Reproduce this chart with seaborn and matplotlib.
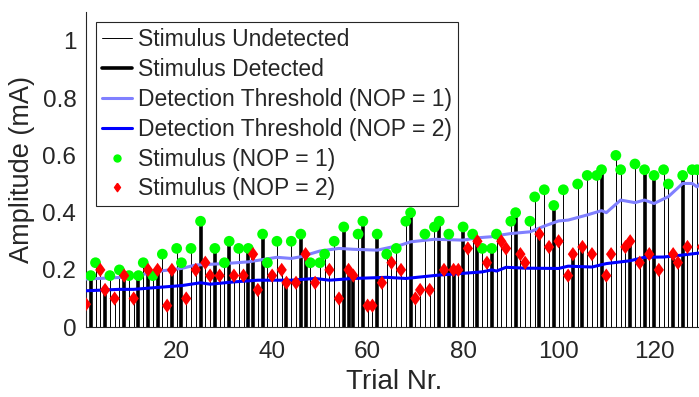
import numpy as np
import pandas as pd
import matplotlib
matplotlib.use("Agg")
import matplotlib.pyplot as plt
import seaborn as sns
from matplotlib.lines import Line2D

# ---------------- data ----------------
trial = list(range(1, 131))
amplitude = [
    0.08, 0.18, 0.225, 0.20, 0.13, 0.18, 0.10, 0.20, 0.18, 0.18,
    0.10, 0.18, 0.225, 0.20, 0.18, 0.20, 0.255, 0.075, 0.20, 0.275,
    0.225, 0.10, 0.275, 0.20, 0.37, 0.225, 0.18, 0.275, 0.18, 0.225,
    0.30, 0.18, 0.275, 0.18, 0.275, 0.255, 0.13, 0.325, 0.225, 0.18,
    0.30, 0.20, 0.155, 0.30, 0.155, 0.325, 0.255, 0.225, 0.155, 0.225,
    0.255, 0.20, 0.30, 0.10, 0.35, 0.20, 0.18, 0.325, 0.37, 0.075,
    0.075, 0.325, 0.155, 0.255, 0.225, 0.275, 0.20, 0.37, 0.40, 0.10,
    0.13, 0.325, 0.13, 0.35, 0.37, 0.20, 0.325, 0.20, 0.20, 0.35,
    0.275, 0.325, 0.30, 0.275, 0.225, 0.275, 0.325, 0.30, 0.275, 0.37,
    0.40, 0.255, 0.225, 0.37, 0.455, 0.325, 0.48, 0.28, 0.425, 0.30,
    0.48, 0.18, 0.255, 0.50, 0.28, 0.53, 0.255, 0.53, 0.55, 0.18,
    0.255, 0.60, 0.55, 0.28, 0.30, 0.57, 0.225, 0.55, 0.255, 0.53,
    0.20, 0.55, 0.50, 0.255, 0.225, 0.53, 0.28, 0.55, 0.55, 0.28,
]
nop = [
    2, 1, 1, 2, 2, 1, 2, 1, 2, 1,
    2, 1, 1, 2, 1, 2, 1, 2, 2, 1,
    1, 2, 1, 2, 1, 2, 2, 1, 2, 1,
    1, 2, 1, 2, 1, 2, 2, 1, 1, 2,
    1, 2, 2, 1, 2, 1, 2, 1, 2, 1,
    1, 2, 1, 2, 1, 2, 2, 1, 1, 2,
    2, 1, 2, 1, 2, 1, 2, 1, 1, 2,
    2, 1, 2, 1, 1, 2, 1, 2, 2, 1,
    2, 1, 2, 1, 2, 1, 1, 2, 2, 1,
    1, 2, 2, 1, 1, 2, 1, 2, 1, 2,
    1, 2, 2, 1, 2, 1, 2, 1, 1, 2,
    2, 1, 1, 2, 2, 1, 2, 1, 2, 1,
    2, 1, 1, 2, 2, 1, 2, 1, 1, 2,
]
detected_trials = [2, 5, 9, 12, 14, 16, 19, 21, 25, 28, 31, 35, 36, 38,
                   43, 46, 47, 55, 56, 57, 59, 62, 69, 75, 77, 78, 80, 83,
                   86, 91, 96, 99, 103, 105, 109, 115, 118, 120, 124, 126]

thr1_trial = [1, 10, 17, 21, 24, 30, 35, 41, 44, 46, 50, 54, 57, 62, 67, 69,
              74, 80, 83, 86, 88, 90, 94, 97, 100, 102, 106, 109, 110, 113,
              116, 118, 120, 123, 126, 128, 129, 130]
thr1_value = [0.168, 0.175, 0.197, 0.205, 0.217, 0.222, 0.228, 0.244, 0.240,
              0.246, 0.266, 0.275, 0.272, 0.269, 0.287, 0.298, 0.307, 0.304,
              0.312, 0.316, 0.322, 0.327, 0.333, 0.353, 0.371, 0.374, 0.392,
              0.407, 0.400, 0.444, 0.435, 0.444, 0.432, 0.456, 0.502, 0.502,
              0.490, 0.510]
thr2_trial = [1, 8, 11, 17, 21, 25, 27, 32, 37, 44, 49, 52, 57, 64, 68, 75,
              80, 84, 86, 87, 89, 93, 100, 102, 107, 110, 115, 118, 122, 125,
              128, 130]
thr2_value = [0.127, 0.132, 0.132, 0.140, 0.145, 0.155, 0.150, 0.158, 0.164,
              0.164, 0.170, 0.164, 0.170, 0.174, 0.170, 0.182, 0.188, 0.193,
              0.200, 0.196, 0.209, 0.206, 0.205, 0.213, 0.210, 0.222, 0.232,
              0.244, 0.245, 0.250, 0.256, 0.260]

x_ticks = [20, 40, 60, 80, 100, 120]
y_ticks = [0, 0.2, 0.4, 0.6, 0.8, 1]
y_ticklabels = ["0", "0.2", "0.4", "0.6", "0.8", "1"]

# ---------------- build frames ----------------
stim = pd.DataFrame({"trial": trial, "amp": amplitude, "nop": nop})
stim["detected"] = stim["trial"].isin(detected_trials)
thr1 = pd.DataFrame({"trial": thr1_trial, "value": thr1_value})
thr2 = pd.DataFrame({"trial": thr2_trial, "value": thr2_value})

# ---------------- style ----------------
sns.set_style("white")
plt.rcParams["font.family"] = ["Liberation Sans", "DejaVu Sans"]
dark = "#262626"
diamond = [(0, 1), (0.72, 0), (0, -1), (-0.72, 0), (0, 1)]

fig = plt.figure(figsize=(6.99, 3.97), dpi=100)
ax = fig.add_axes([0.123, 0.176, 0.881, 0.793])

und = stim[~stim["detected"]]
det = stim[stim["detected"]]
ax.vlines(und["trial"], 0, und["amp"], color="black", linewidth=0.7, zorder=2)
ax.vlines(det["trial"], 0, det["amp"], color="black", linewidth=2.6, zorder=2)

sns.lineplot(data=thr1, x="trial", y="value", ax=ax, color="#8080FF",
             linewidth=2.2, zorder=3, legend=False)
sns.lineplot(data=thr2, x="trial", y="value", ax=ax, color="#0000FF",
             linewidth=2.2, zorder=3, legend=False)

s1 = stim[stim["nop"] == 1]
s2 = stim[stim["nop"] == 2]
sns.scatterplot(data=s1, x="trial", y="amp", ax=ax, marker="o", s=60,
                color="#00FF00", edgecolor="none", zorder=4, legend=False)
sns.scatterplot(data=s2, x="trial", y="amp", ax=ax, marker=diamond, s=105,
                color="#FF0000", edgecolor="none", zorder=5, legend=False)

ax.set_xlim(1, 130)
ax.set_ylim(0, 1.1)
ax.set_xticks(x_ticks)
ax.set_yticks(y_ticks)
ax.set_yticklabels(y_ticklabels)
ax.tick_params(axis="both", direction="in", length=5, width=0.8,
               colors=dark, labelsize=17.5)
ax.tick_params(axis="y", pad=7)
ax.tick_params(axis="x", pad=10)
ax.set_xlabel("Trial Nr.", fontsize=20, color=dark, labelpad=4)
ax.set_ylabel("Amplitude (mA)", fontsize=19.5, color=dark, labelpad=5)
for side in ["top", "right"]:
    ax.spines[side].set_visible(False)
for side in ["left", "bottom"]:
    ax.spines[side].set_color(dark)
    ax.spines[side].set_linewidth(0.8)

handles = [
    Line2D([], [], color="black", linewidth=0.7),
    Line2D([], [], color="black", linewidth=2.6),
    Line2D([], [], color="#8080FF", linewidth=2.2),
    Line2D([], [], color="#0000FF", linewidth=2.2),
    Line2D([], [], color="#00FF00", marker="o", linestyle="none", markersize=5),
    Line2D([], [], color="#FF0000", marker=diamond, linestyle="none", markersize=6),
]
labels = ["Stimulus Undetected", "Stimulus Detected",
          "Detection Threshold (NOP = 1)", "Detection Threshold (NOP = 2)",
          "Stimulus (NOP = 1)", "Stimulus (NOP = 2)"]
leg = ax.legend(handles, labels, loc="upper left", bbox_to_anchor=(0.016, 0.968),
                borderaxespad=0, fontsize=16.5, frameon=True, fancybox=False,
                framealpha=1, edgecolor=dark, handlelength=1.35,
                handletextpad=0.25, labelspacing=0.3, borderpad=0.25)
leg.get_frame().set_linewidth(0.8)
leg.set_zorder(10)

fig.savefig("out.png", dpi=100)
